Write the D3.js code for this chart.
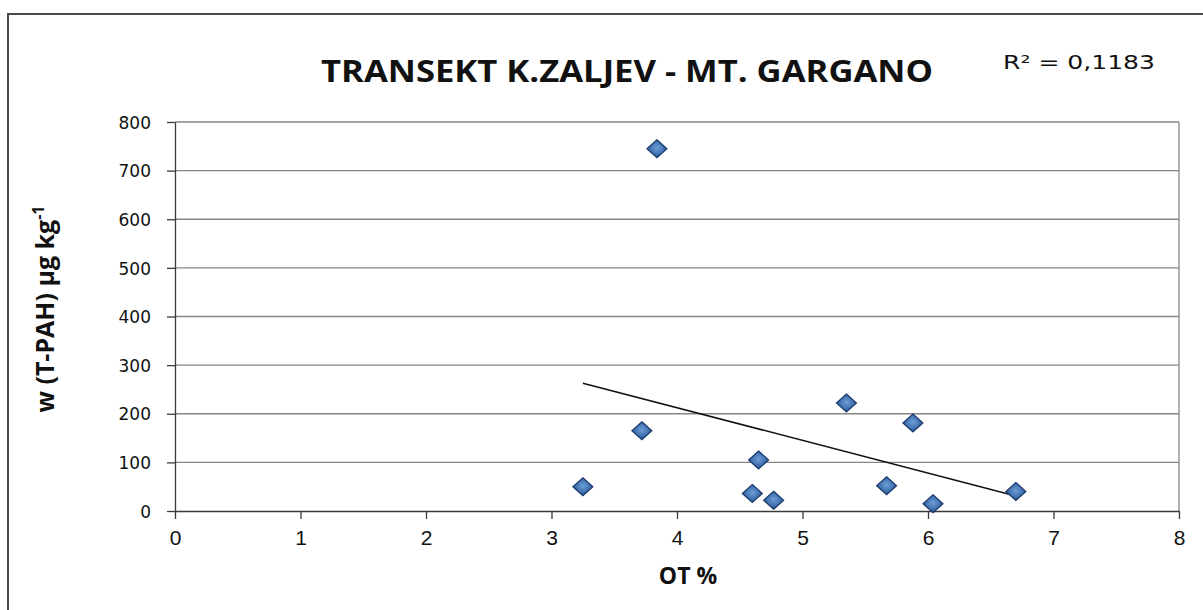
<!DOCTYPE html>
<html>
<head>
<meta charset="utf-8">
<script src="https://cdn.jsdelivr.net/npm/d3@7"></script>
<style>
  html, body { margin: 0; padding: 0; background: #fff; }
  svg { display: block; }
</style>
</head>
<body>
<svg id="chart" width="1203" height="610"></svg>
<script>
// OT % (organic carbon) against total PAH content, transect samples
const otPercent = [3.25, 3.72, 3.84, 4.60, 4.65, 4.77, 5.35, 5.67, 5.88, 6.04, 6.70];
const tPah      = [50, 165, 745, 36, 105, 22, 222, 52, 181, 15, 40];
const xTicks = [0, 1, 2, 3, 4, 5, 6, 7, 8];
const yTicks = [0, 100, 200, 300, 400, 500, 600, 700, 800];
const titleText = "TRANSEKT K.ZALJEV - MT. GARGANO";
const r2Text = "R² = 0,1183";

const svg = d3.select("#chart");
const plot = { left: 175, right: 1179, top: 122, bottom: 511 };

// outer chart frame (runs past the right and bottom edges)
svg.append("rect")
  .attr("x", 8).attr("y", 14)
  .attr("width", 1300).attr("height", 700)
  .attr("fill", "#fff").attr("stroke", "#4a4a4a").attr("stroke-width", 2);

const x = d3.scaleLinear().domain([0, 8]).range([plot.left, plot.right]);
const y = d3.scaleLinear().domain([0, 800]).range([plot.bottom, plot.top]);

// marker gradient
const defs = svg.append("defs");
const grad = defs.append("radialGradient").attr("id", "dia")
  .attr("cx", "50%").attr("cy", "45%").attr("r", "60%");
grad.append("stop").attr("offset", "0%").attr("stop-color", "#6f9fd8");
grad.append("stop").attr("offset", "60%").attr("stop-color", "#3f6fae");
grad.append("stop").attr("offset", "100%").attr("stop-color", "#22467f");

// horizontal gridlines
svg.append("g")
  .selectAll("line")
  .data(yTicks.filter(d => d > 0))
  .join("line")
  .attr("x1", plot.left).attr("x2", plot.right)
  .attr("y1", d => y(d)).attr("y2", d => y(d))
  .attr("stroke", "#868686").attr("stroke-width", 1.3);

// right edge of plot area
svg.append("line")
  .attr("x1", plot.right).attr("x2", plot.right)
  .attr("y1", plot.top).attr("y2", plot.bottom)
  .attr("stroke", "#868686").attr("stroke-width", 1.3);

// y axis
const yAxis = svg.append("g")
  .attr("transform", `translate(${plot.left},0)`)
  .call(d3.axisLeft(y).tickValues(yTicks).tickSize(8).tickPadding(16).tickSizeOuter(0));
yAxis.select(".domain").attr("stroke", "#3a3a3a").attr("stroke-width", 1.3);
yAxis.selectAll(".tick line").attr("stroke", "#3a3a3a").attr("stroke-width", 1.3);
yAxis.selectAll(".tick text")
  .attr("font-family", "DejaVu Sans, Verdana, sans-serif")
  .attr("font-size", 17).attr("fill", "#111")
  .attr("dy", "0.36em");

// x axis
const xAxis = svg.append("g")
  .attr("transform", `translate(0,${plot.bottom})`)
  .call(d3.axisBottom(x).tickValues(xTicks).tickSize(8).tickPadding(11).tickSizeOuter(0));
xAxis.select(".domain").attr("stroke", "#3a3a3a").attr("stroke-width", 1.3);
xAxis.selectAll(".tick line").attr("stroke", "#3a3a3a").attr("stroke-width", 1.3);
xAxis.selectAll(".tick text")
  .attr("font-family", "Liberation Sans Narrow, Liberation Sans, Arial, sans-serif")
  .attr("font-size", 21).attr("fill", "#111");

// linear trendline from least squares fit
const mx = d3.mean(otPercent), my = d3.mean(tPah);
let sxy = 0, sxx = 0;
otPercent.forEach((v, i) => { sxy += (v - mx) * (tPah[i] - my); sxx += (v - mx) * (v - mx); });
const slope = sxy / sxx, icpt = my - slope * mx;
const [xmin, xmax] = d3.extent(otPercent);
svg.append("line")
  .attr("x1", x(xmin)).attr("y1", y(icpt + slope * xmin))
  .attr("x2", x(xmax)).attr("y2", y(icpt + slope * xmax))
  .attr("stroke", "#111").attr("stroke-width", 1.5);

// diamond markers
const points = otPercent.map((v, i) => ({ ot: v, pah: tPah[i] }));
svg.append("g")
  .selectAll("path")
  .data(points)
  .join("path")
  .attr("transform", d => `translate(${x(d.ot)},${y(d.pah)})`)
  .attr("d", "M0,-9 L10,0 L0,9 L-10,0 Z")
  .attr("fill", "url(#dia)")
  .attr("stroke", "#1b3a6c").attr("stroke-width", 1.2);

// title
svg.append("text")
  .attr("x", 627).attr("y", 82)
  .attr("text-anchor", "middle")
  .attr("font-family", "Open Sans, Liberation Sans, sans-serif")
  .attr("font-weight", "bold").attr("font-size", 31)
  .attr("textLength", 612).attr("lengthAdjust", "spacingAndGlyphs")
  .attr("fill", "#111")
  .text(titleText);

// R² annotation
svg.append("text")
  .attr("x", 1003).attr("y", 69)
  .attr("font-family", "DejaVu Sans, Verdana, sans-serif")
  .attr("font-size", 19)
  .attr("textLength", 152).attr("lengthAdjust", "spacingAndGlyphs")
  .attr("fill", "#111")
  .text(r2Text);

// x axis title
svg.append("text")
  .attr("x", 688).attr("y", 584)
  .attr("text-anchor", "middle")
  .attr("font-family", "Open Sans, Liberation Sans, sans-serif")
  .attr("font-weight", "bold").attr("font-size", 23)
  .attr("fill", "#111")
  .text("OT %");

// y axis title with superscript
const yt = svg.append("text")
  .attr("transform", "translate(54,309) rotate(-90)")
  .attr("text-anchor", "middle")
  .attr("font-family", "Open Sans, Liberation Sans, sans-serif")
  .attr("font-weight", "bold").attr("font-size", 25)
  .attr("fill", "#111");
yt.append("tspan").text("w (T-PAH) μg kg");
yt.append("tspan").attr("font-size", 16).attr("dy", "-0.6em").text("-1");
</script>
</body>
</html>
